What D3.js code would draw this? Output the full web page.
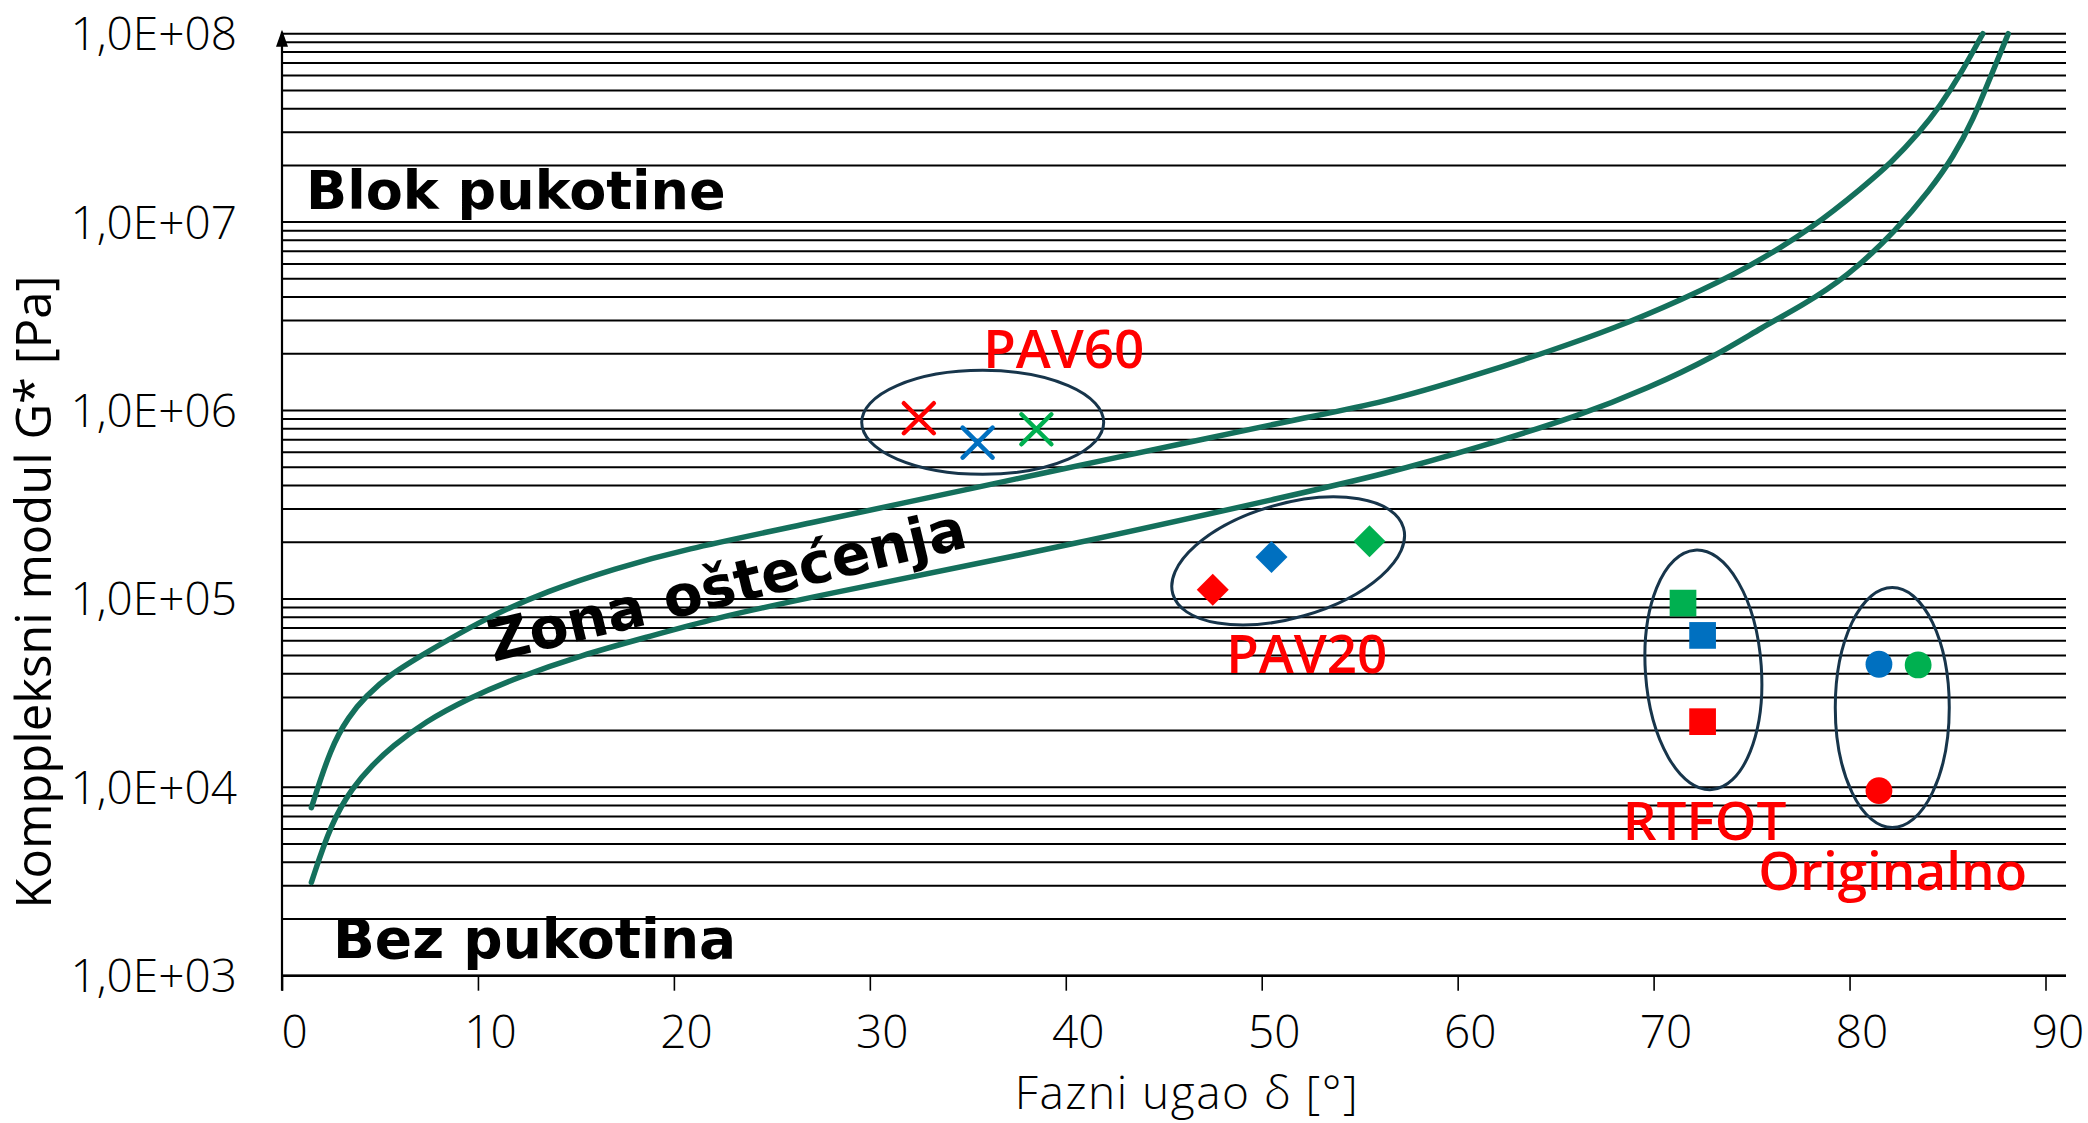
<!DOCTYPE html>
<html>
<head>
<meta charset="utf-8">
<script src="https://cdnjs.cloudflare.com/ajax/libs/d3/7.8.5/d3.min.js"></script>
<style>
  html, body { margin: 0; padding: 0; background: #ffffff; }
  svg { display: block; }
</style>
</head>
<body>
<svg id="chart" width="2088" height="1123"></svg>
<script>
// Black-space diagram: phase angle δ [°] versus complex modulus G* [Pa]

// Upper boundary of the damage zone (δ, G*)
const upperDelta = [1.5, 2.5, 3.4, 4.25, 5.6, 7.3, 10.2, 13.6, 17.0, 20.4, 26.5, 35.6, 42.4, 52.0, 56.1, 61.2, 64.6, 68.0, 71.4, 74.8, 78.2, 80.7, 82.1, 83.6, 84.6, 85.7, 86.8];
const upperG     = [7.8e3, 1.64e4, 2.37e4, 3.03e4, 4.03e4, 5.14e4, 7.73e4, 1.11e5, 1.45e5, 1.82e5, 2.47e5, 3.94e5, 5.57e5, 9.1e5, 1.09e6, 1.57e6, 2.05e6, 2.73e6, 3.86e6, 5.69e6, 9.46e6, 1.54e7, 2.05e7, 3.02e7, 4.1e7, 6.17e7, 1.0e8];

// Lower boundary of the damage zone (δ, G*)
const lowerDelta = [1.5, 2.5, 3.6, 4.6, 5.6, 7.3, 9.5, 11.9, 15.3, 18.7, 22.1, 26.5, 40.7, 52.0, 56.1, 61.2, 66.3, 69.7, 73.1, 75.6, 77.5, 79.9, 82.4, 84.1, 85.3, 86.3, 87.2, 88.1];
const lowerG     = [3.13e3, 6.44e3, 1.0e4, 1.31e4, 1.64e4, 2.23e4, 2.96e4, 3.79e4, 5.04e4, 6.3e4, 7.89e4, 1.0e5, 1.97e5, 3.64e5, 4.55e5, 6.43e5, 9.46e5, 1.31e6, 1.93e6, 2.79e6, 3.56e6, 5.13e6, 9.08e6, 1.48e7, 2.22e7, 3.48e7, 5.92e7, 1.0e8];

// Measured binders by ageing state
const pav60Delta = [32.5, 35.5, 38.5];
const pav60G     = [9.1e5, 6.75e5, 7.95e5];
const pav60Color = ["red", "blue", "green"];

const pav20Delta = [47.5, 50.5, 55.5];
const pav20G     = [1.12e5, 1.67e5, 2.02e5];
const pav20Color = ["red", "blue", "green"];

const rtfotDelta = [71.5, 72.5, 72.5];
const rtfotG     = [9.5e4, 6.4e4, 2.23e4];
const rtfotColor = ["green", "blue", "red"];

const origDelta  = [81.5, 83.5, 81.5];
const origG      = [4.5e4, 4.46e4, 9.6e3];
const origColor  = ["blue", "green", "red"];

// Group labels and the ellipses that enclose each group
const groupNames      = ["PAV60", "PAV20", "RTFOT", "Originalno"];
const groupLabelDelta = [39.9, 52.3, 72.6, 82.2];
const groupLabelG     = [1.69e6, 4.06e4, 5.25e3, 2.85e3];
const ellipseDelta    = [35.76, 51.35, 72.54, 82.18];
const ellipseG        = [8.65e5, 1.59e5, 4.2e4, 2.65e4];

// Zone captions
const zoneNames = ["Blok pukotine", "Bez pukotina", "Zona oštećenja"];
const zoneDelta = [1.23, 2.6, 10.8];
const zoneG     = [1.18e7, 1.24e3, 4.64e4];

// Axes
const xTicks = [0, 10, 20, 30, 40, 50, 60, 70, 80, 90];
const yTicks = [1e3, 1e4, 1e5, 1e6, 1e7, 1e8];
const yTickLabels = ["1,0E+03", "1,0E+04", "1,0E+05", "1,0E+06", "1,0E+07", "1,0E+08"];
const xTitle = "Fazni ugao δ [°]";
const yTitle = "Komppleksni modul G* [Pa]";

// ---------------------------------------------------------------------------
const palette = { red: "#FF0000", blue: "#0070C0", green: "#00B050" };
const curveColor = "#14705C";
const ellipseColor = "#17354B";
const axisFont = "'Open Sans', 'Liberation Sans', sans-serif";

const svg = d3.select("#chart");
const x = d3.scaleLinear().domain([0, 90]).range([282, 2045.5]);
const y = d3.scaleLog().domain([1e3, 1e8]).range([975.7, 33.7]);
const gridRight = 2066;

// Horizontal log grid (1..9 per decade)
const gridValues = [];
for (let k = 3; k < 8; k++) for (let m = 1; m <= 9; m++) gridValues.push(m * Math.pow(10, k));
gridValues.push(1e8);
svg.append("g").selectAll("line").data(gridValues).join("line")
  .attr("x1", x(0)).attr("x2", gridRight)
  .attr("y1", d => y(d)).attr("y2", d => y(d))
  .attr("stroke", "#000").attr("stroke-width", 2);

// X axis
const xAxis = d3.axisBottom(x).tickValues(xTicks).tickSize(15).tickFormat(d3.format("d"));
const gx = svg.append("g").attr("transform", `translate(0,${y(1e3)})`).call(xAxis);
gx.select(".domain").remove();
gx.selectAll(".tick line").attr("stroke", "#000").attr("stroke-width", 1.6);
gx.selectAll(".tick text")
  .attr("y", 72).attr("dy", 0).attr("dx", 12)
  .attr("fill", "#000")
  .style("font-family", axisFont)
  .style("font-weight", 300).style("font-size", "46px");
svg.append("line").attr("x1", x(0)).attr("x2", gridRight)
  .attr("y1", y(1e3)).attr("y2", y(1e3)).attr("stroke", "#000").attr("stroke-width", 2.5);

// Y axis
const yAxis = d3.axisLeft(y).tickValues(yTicks).tickSize(0)
  .tickFormat((d, i) => yTickLabels[i]);
const gy = svg.append("g").attr("transform", `translate(${x(0)},0)`).call(yAxis);
gy.select(".domain").remove();
gy.selectAll(".tick text")
  .attr("x", -45).attr("dy", 16)
  .attr("fill", "#000")
  .style("font-family", axisFont)
  .style("font-weight", 300).style("font-size", "46px");
svg.append("line").attr("x1", x(0)).attr("x2", x(0))
  .attr("y1", y(1e8) - 2).attr("y2", y(1e3) + 15)
  .attr("stroke", "#000").attr("stroke-width", 2.2);
svg.append("path")
  .attr("d", `M${x(0)},${y(1e8) - 4} L${x(0) - 6},${y(1e8) + 13} L${x(0) + 6},${y(1e8) + 13} Z`)
  .attr("fill", "#000");

// Axis titles
svg.append("text").attr("x", 1187).attr("y", 1109)
  .attr("text-anchor", "middle").attr("fill", "#000")
  .style("font-family", axisFont)
  .style("font-weight", 300).style("font-size", "46px")
  .style("letter-spacing", "1.5px")
  .text(xTitle);
svg.append("text")
  .attr("transform", "translate(51,592) rotate(-90)")
  .attr("text-anchor", "middle").attr("fill", "#000")
  .style("font-family", axisFont)
  .style("font-weight", 400).style("font-size", "49px")
  .text(yTitle);

// Damage-zone boundary curves (smoothed through the boundary points)
const line = d3.line().x(d => x(d[0])).y(d => y(d[1])).curve(d3.curveBasis);
[[upperDelta, upperG], [lowerDelta, lowerG]].forEach(([ds, gs]) => {
  svg.append("path").datum(ds.map((d, i) => [d, gs[i]]))
    .attr("d", line).attr("fill", "none")
    .attr("stroke", curveColor).attr("stroke-width", 5.5)
    .attr("stroke-linecap", "round").attr("stroke-linejoin", "round");
});

// Zone captions
const zoneText = svg.append("g")
  .style("font-family", "'DejaVu Sans', sans-serif").style("font-weight", 700).attr("fill", "#000");
zoneText.append("text").attr("x", x(zoneDelta[0])).attr("y", y(zoneG[0]))
  .style("font-size", "54px").text(zoneNames[0]);
zoneText.append("text").attr("x", x(zoneDelta[1])).attr("y", y(zoneG[1]))
  .style("font-size", "55px").text(zoneNames[1]);
zoneText.append("text")
  .attr("transform", `translate(${x(zoneDelta[2])},${y(zoneG[2])}) rotate(-13.6)`)
  .style("font-size", "57px").text(zoneNames[2]);

// Group ellipses (radii and tilt in px / degrees)
const ellipseShape = [
  { rx: 121, ry: 52, rot: 0 },
  { rx: 120, ry: 57, rot: -16 },
  { rx: 58, ry: 120, rot: -4 },
  { rx: 57, ry: 120, rot: 0 }
];
svg.append("g").selectAll("ellipse").data(ellipseDelta).join("ellipse")
  .attr("transform", (d, i) => `translate(${x(d)},${y(ellipseG[i])}) rotate(${ellipseShape[i].rot})`)
  .attr("rx", (d, i) => ellipseShape[i].rx).attr("ry", (d, i) => ellipseShape[i].ry)
  .attr("fill", "none").attr("stroke", ellipseColor).attr("stroke-width", 3);

// Markers
const crossPath = "M-15,-15L15,15M-15,15L15,-15";
svg.append("g").selectAll("path").data(pav60Delta).join("path")
  .attr("transform", (d, i) => `translate(${x(d)},${y(pav60G[i])})`)
  .attr("d", crossPath).attr("fill", "none")
  .attr("stroke", (d, i) => palette[pav60Color[i]])
  .attr("stroke-width", 4.5).attr("stroke-linecap", "round");

const diamond = d3.symbol().type(d3.symbolSquare).size(512);
svg.append("g").selectAll("path").data(pav20Delta).join("path")
  .attr("transform", (d, i) => `translate(${x(d)},${y(pav20G[i])}) rotate(45)`)
  .attr("d", diamond()).attr("fill", (d, i) => palette[pav20Color[i]]);

const square = d3.symbol().type(d3.symbolSquare).size(713);
svg.append("g").selectAll("path").data(rtfotDelta).join("path")
  .attr("transform", (d, i) => `translate(${x(d)},${y(rtfotG[i])})`)
  .attr("d", square()).attr("fill", (d, i) => palette[rtfotColor[i]]);

svg.append("g").selectAll("circle").data(origDelta).join("circle")
  .attr("cx", d => x(d)).attr("cy", (d, i) => y(origG[i])).attr("r", 13.4)
  .attr("fill", (d, i) => palette[origColor[i]]);

// Group labels
svg.append("g").selectAll("text").data(groupNames).join("text")
  .attr("x", (d, i) => x(groupLabelDelta[i])).attr("y", (d, i) => y(groupLabelG[i]))
  .attr("text-anchor", "middle").attr("fill", "#FF0000")
  .style("font-family", axisFont)
  .style("font-weight", 600).style("font-size", "53px")
  .text(d => d);
</script>
</body>
</html>
